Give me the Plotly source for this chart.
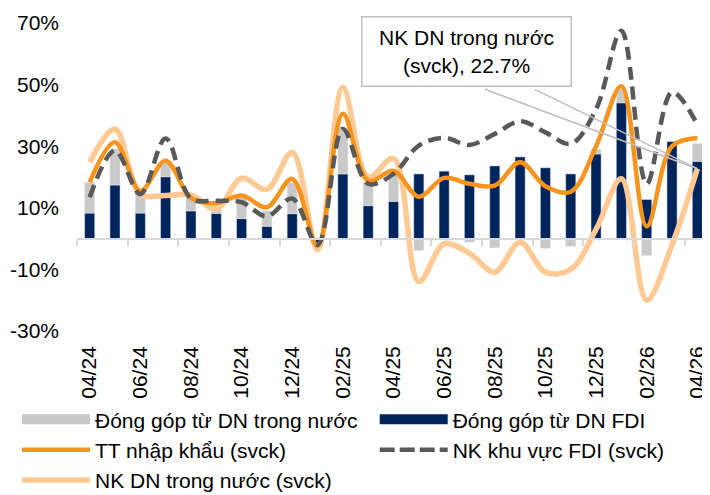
import plotly.graph_objects as go

months = ["04/24", "05/24", "06/24", "07/24", "08/24", "09/24", "10/24", "11/24",
          "12/24", "01/25", "02/25", "03/25", "04/25", "05/25", "06/25", "07/25",
          "08/25", "09/25", "10/25", "11/25", "12/25", "01/26", "02/26", "03/26", "04/26"]

# contributions (percentage points)
contrib_fdi = [8.3, 17.4, 8.3, 20.1, 9.0, 8.2, 6.5, 4.0, 8.1, -1.5, 21.0, 10.7, 12.1,
               21.0, 21.9, 20.7, 23.6, 26.6, 23.0, 21.0, 27.5, 44.1, 12.7, 31.5, 25.1]
contrib_dom = [10.0, 11.7, 6.5, 4.5, 4.5, 2.5, 6.9, 5.0, 10.2, -0.5, 15.0, 7.6, 9.0,
               -3.9, -0.3, -1.2, -3.0, 0.0, -3.2, -2.5, 1.4, 4.5, -5.5, -0.5, 5.8]

# growth rates yoy (%)
tt_import = [18.3, 31.3, 15.5, 25.3, 13.2, 11.5, 14.0, 10.2, 19.4, -2.3, 40.5, 18.8, 22.0,
             13.6, 19.7, 17.8, 17.2, 24.8, 17.0, 15.2, 30.0, 49.5, 4.0, 30.0, 32.7]
nk_fdi = [13.4, 28.6, 14.5, 32.5, 13.0, 12.3, 11.8, 7.2, 13.0, -2.0, 35.6, 17.8, 21.0,
          30.2, 32.7, 30.4, 34.0, 38.1, 34.5, 30.8, 42.0, 67.5, 17.8, 47.5, 37.0]
nk_dom = [24.8, 35.6, 14.5, 14.0, 14.2, 9.6, 19.6, 16.0, 28.0, -3.6, 49.1, 19.9, 26.0,
          -14.0, -1.7, -4.8, -10.9, -1.2, -10.9, -10.0, 3.0, 19.4, -20.0, -2.0, 22.7]

tick_labels = months[::2]
y_ticks = [-30, -10, 10, 30, 50, 70]
y_ticktext = [f"{v}%" for v in y_ticks]

names = ["Đóng góp từ DN trong nước", "Đóng góp từ DN FDI", "TT nhập khẩu (svck)",
         "NK khu vực FDI (svck)", "NK DN trong nước (svck)"]

C_GREY = "#C9C9C9"
C_NAVY = "#00245C"
C_ORANGE = "#F7941D"
C_DASH = "#595959"
C_LIGHT = "#FFC994"
FONT = "Liberation Sans, Arial, sans-serif"
FS = 21

fig = go.Figure()

fig.add_trace(go.Bar(x=months, y=contrib_fdi, marker_color=C_NAVY, width=0.4,
                     showlegend=False, name=names[1]))
fig.add_trace(go.Bar(x=months, y=contrib_dom, marker_color=C_GREY, width=0.4,
                     showlegend=False, name=names[0]))

fig.add_trace(go.Scatter(x=months, y=nk_dom, mode="lines", showlegend=False,
                         line=dict(color=C_LIGHT, width=5.5, shape="spline", smoothing=1.0)))
fig.add_trace(go.Scatter(x=months, y=tt_import, mode="lines", showlegend=False,
                         line=dict(color=C_ORANGE, width=4.5, shape="spline", smoothing=1.0)))
fig.add_trace(go.Scatter(x=months, y=nk_fdi, mode="lines", showlegend=False,
                         line=dict(color=C_DASH, width=4.5, shape="spline", smoothing=1.0,
                                   dash="13px,7px")))

# legend proxies: column 1 -> legend, column 2 -> legend2
leg_items = [
    (names[0], dict(color=C_GREY, width=10), "legend"),
    (names[2], dict(color=C_ORANGE, width=4.5), "legend"),
    (names[4], dict(color=C_LIGHT, width=5.5), "legend"),
    (names[1], dict(color=C_NAVY, width=10), "legend2"),
    (names[3], dict(color=C_DASH, width=4.5, dash="15px,5px"), "legend2"),
]
for nm, st, lg in leg_items:
    fig.add_trace(go.Scatter(x=[None], y=[None], mode="lines", name=nm, line=st,
                             legend=lg, legendgroup=nm))

# helper axis carrying the zero line with boundary tick marks
n = len(months)
fig.add_trace(go.Scatter(x=[], y=[], xaxis="x2", showlegend=False, hoverinfo="skip"))

# page body has an 8px margin: figure is 8px smaller, everything shifted by -8
W, H = 702, 487
L, R, T, B = 69, 0, 15, 164
PW = W - L - R
PH = H - T - B

leg_common = dict(orientation="v", yanchor="top", xanchor="left", y=(323 - 391.2) / PH,
                  itemwidth=68, font=dict(size=FS, family=FONT), traceorder="normal",
                  bgcolor="rgba(0,0,0,0)", tracegroupgap=2)

fig.update_layout(
    width=W, height=H,
    margin=dict(l=L, r=R, t=T, b=B, autoexpand=False),
    paper_bgcolor="white", plot_bgcolor="white",
    barmode="relative",
    font=dict(family=FONT, size=FS, color="#000000"),
    xaxis=dict(type="category", range=[-0.5, n - 0.5], tickvals=tick_labels,
               ticktext=tick_labels, tickangle=-90, ticks="", showline=False,
               showgrid=False, zeroline=False, ticklabelstandoff=10, automargin=False,
               tickfont=dict(size=FS)),
    xaxis2=dict(type="linear", overlaying="x", anchor="free", position=0.3,
                range=[-0.5, n - 0.5], tickvals=[i - 0.5 for i in range(0, n, 2)],
                showticklabels=False, ticks="outside", ticklen=6, tickwidth=2,
                tickcolor="#D9D9D9", showline=True, linecolor="#D9D9D9", linewidth=2,
                showgrid=False, zeroline=False, automargin=False),
    yaxis=dict(range=[-30, 70], tickvals=y_ticks, ticktext=y_ticktext, showgrid=False,
               zeroline=False, showline=False, ticks="", ticklabelstandoff=17,
               automargin=False, tickfont=dict(size=FS)),
    legend=dict(x=(9 - L) / PW, **leg_common),
    legend2=dict(x=(366.7 - L) / PW, **leg_common),
)

fig.add_annotation(xref="paper", yref="paper", x=(458 - L) / PW, y=(323 - 44) / PH,
                   text="NK DN trong nước<br>(svck), 22.7%", showarrow=False,
                   xanchor="center", yanchor="middle", width=194, height=54,
                   borderpad=7, bordercolor="#BFBFBF", borderwidth=1.5, bgcolor="white",
                   font=dict(size=FS, family=FONT, color="#000000"), align="center")
for axv in (-214, -164):
    fig.add_annotation(x=months[-1], y=nk_dom[-1], xref="x", yref="y", text="",
                       showarrow=True, arrowhead=0, arrowwidth=1.5, arrowcolor="#BFBFBF",
                       ax=axv, ay=-80, standoff=0)

fig.write_html("out.html")
